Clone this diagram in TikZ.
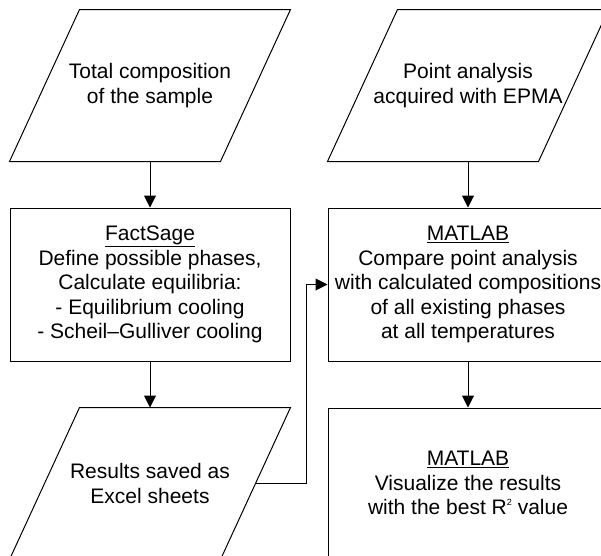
\documentclass[tikz,border=0pt]{standalone}
\usepackage{fontspec}
\setmainfont{Liberation Sans}
\usetikzlibrary{positioning, arrows.meta}
\tikzset{every picture/.style={line width=1pt}}

\begin{document}
\begin{tikzpicture}
    [x=1pt, y=1pt,
    rect/.style = {rectangle, draw, align=center, inner sep=0pt,
            minimum width=280pt, minimum height=153pt, fill=white},
    io/.style = {rectangle, align=center, inner sep=0pt,
            minimum width=210pt, minimum height=151pt,
            append after command={\pgfextra{
                \draw[-] ([xshift=35pt]\tikzlastnode.north west)
                    -- ([xshift=35pt]\tikzlastnode.north east)
                    -- ([xshift=-35pt]\tikzlastnode.south east)
                    -- ([xshift=-35pt]\tikzlastnode.south west) -- cycle;}}},
    -{Triangle[length=12pt, width=12pt]},
    font=\fontsize{21}{24.5}\selectfont,
    ]
    \clip (0, 0) rectangle (601, -555);

	\node[io] (composition) at (150, -85.5) {Total composition\\of the sample};
	\node[rect, below=46pt of composition] (factsage) {\underline{FactSage}\\Define possible phases,\\Calculate equilibria:\\- Equilibrium cooling\\- Scheil--Gulliver cooling};
	\node[io, below=46pt of factsage] (results) {Results saved as\\Excel sheets};

	\node[rect, right=37pt of factsage] (compare) {\underline{MATLAB}\\Compare point analysis\\with calculated compositions\\of all existing phases\\at all temperatures};
	\node[io, above=46pt of compare] (epma) {Point analysis\\acquired with EPMA};
	\node[rect, below=46pt of compare, minimum height=150pt] (visualize) {\underline{MATLAB}\\Visualize the results\\with the best R\raisebox{9pt}{\fontsize{9}{9}\selectfont 2} value};

	\draw (composition) to (factsage);
	\draw (factsage) to (results);
	\draw (epma) to (compare);
	\draw (compare) to (visualize);
	\draw (results.east) -- ++(51, 0) |- (compare.west);
\end{tikzpicture}
\end{document}
